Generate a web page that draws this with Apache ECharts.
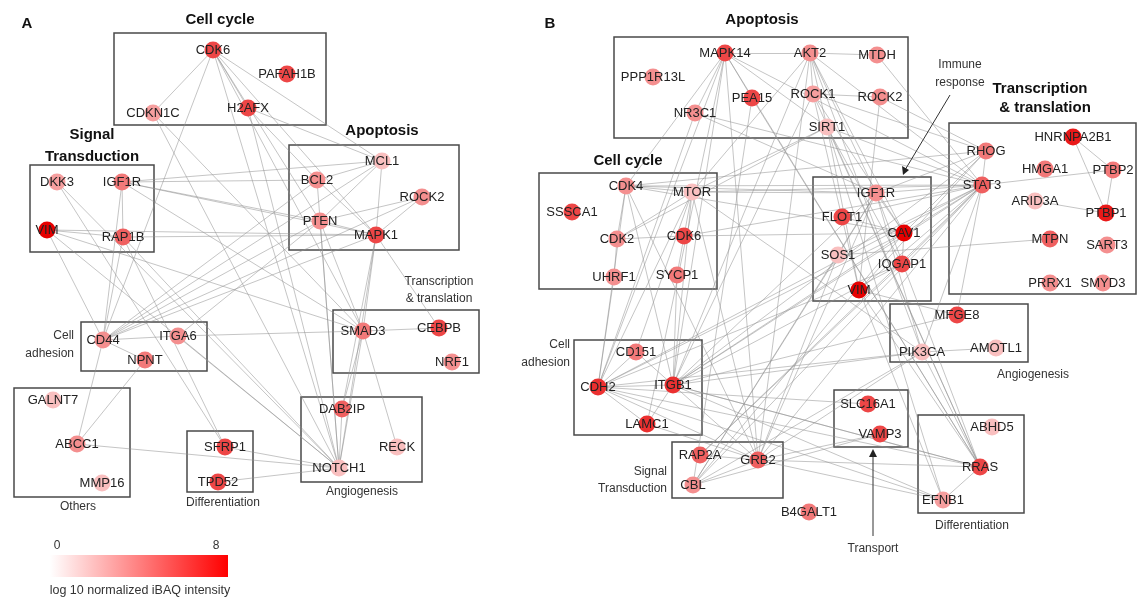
<!DOCTYPE html>
<html>
<head>
<meta charset="utf-8">
<script src="https://cdn.jsdelivr.net/npm/echarts@6/dist/echarts.min.js"></script>
<style>
  html, body { margin: 0; padding: 0; background: #fff; }
  #chart { width: 1138px; height: 599px; }
</style>
</head>
<body>
<div id="chart"></div>
<script>
// node name + log10 normalized iBAQ intensity (0..8)
const namesA = ["CDK6", "PAFAH1B", "CDKN1C", "H2AFX", "DKK3", "IGF1R", "VIM", "RAP1B",
  "MCL1", "BCL2", "ROCK2", "PTEN", "MAPK1", "SMAD3", "CEBPB", "NRF1", "DAB2IP", "RECK",
  "NOTCH1", "CD44", "ITGA6", "NPNT", "GALNT7", "ABCC1", "MMP16", "SFRP1", "TPD52"];
const intensityA = [5.8, 5.8, 3, 5.8, 3, 4.2, 8, 5, 2, 3.5, 3.5, 3.5, 5.8, 4.2, 5.8, 3.5, 5, 2,
  2, 3.5, 3.5, 4.2, 2, 3.5, 2, 5.8, 5.8];
// layout of panel A nodes (axis units)
const layoutA = [[213, 50], [287, 74], [153, 113], [248, 108], [57, 182], [122, 182], [47, 230], [123, 237],
  [382, 161], [317, 180], [422, 197], [320, 221], [376, 235], [363, 331], [439, 328], [452, 362], [342, 409], [397, 447],
  [339, 468], [103, 340], [178, 336], [145, 360], [53, 400], [77, 444], [102, 483], [225, 447], [218, 482]];

const namesB = ["MAPK14", "AKT2", "MTDH", "PPP1R13L", "PEA15", "ROCK1", "ROCK2", "NR3C1", "SIRT1",
  "CDK4", "MTOR", "SSSCA1", "CDK2", "CDK6", "UHRF1", "SYCP1",
  "IGF1R", "FLOT1", "CAV1", "SOS1", "IQGAP1", "VIM",
  "RHOG", "HNRNPA2B1", "HMGA1", "PTBP2", "STAT3", "ARID3A", "PTBP1", "MTPN", "SART3", "PRRX1", "SMYD3",
  "MFGE8", "PIK3CA", "AMOTL1", "SLC16A1", "VAMP3", "ABHD5", "RRAS", "EFNB1", "B4GALT1",
  "CD151", "CDH2", "ITGB1", "LAMC1", "RAP2A", "GRB2", "CBL"];
const intensityB = [5.8, 3.5, 3.5, 3.5, 5.8, 3, 3.5, 3.5, 2,
  3.5, 2, 5.8, 3.5, 5.8, 3.5, 4.2,
  3.5, 5.8, 8, 2, 5.8, 8,
  4.2, 7.2, 4.2, 4.2, 5, 2, 7.2, 5, 3.5, 3.5, 3.5,
  5.8, 2, 2, 5.8, 5.8, 2, 5.8, 3, 4.2,
  4.2, 6.5, 6.5, 6.5, 5, 5, 3.5];
const layoutB = [[725, 53], [810, 53], [877, 55], [653, 77], [752, 98], [813, 94], [880, 97], [695, 113], [827, 127],
  [626, 186], [692, 192], [572, 212], [617, 239], [684, 236], [614, 277], [677, 275],
  [876, 193], [842, 217], [904, 233], [838, 255], [902, 264], [859, 290],
  [986, 151], [1073, 137], [1045, 169], [1113, 170], [982, 185], [1035, 201], [1106, 213], [1050, 239], [1107, 245], [1050, 283], [1103, 283],
  [957, 315], [922, 352], [996, 348], [868, 404], [880, 434], [992, 427], [980, 467], [943, 500], [809, 512],
  [636, 352], [598, 387], [673, 385], [647, 424], [700, 455], [758, 460], [693, 485]];

const edgesA = [
  ["CDK6", "CDKN1C"], ["CDK6", "H2AFX"], ["CDK6", "MCL1"], ["CDK6", "CD44"], ["CDK6", "PTEN"], ["CDK6", "MAPK1"],
  ["CDK6", "SMAD3"], ["CDK6", "NOTCH1"], ["H2AFX", "BCL2"], ["H2AFX", "MCL1"], ["H2AFX", "NOTCH1"],
  ["CDKN1C", "SMAD3"], ["CDKN1C", "NOTCH1"], ["IGF1R", "RAP1B"], ["IGF1R", "BCL2"], ["IGF1R", "PTEN"],
  ["IGF1R", "MCL1"], ["IGF1R", "MAPK1"], ["IGF1R", "SMAD3"], ["IGF1R", "CD44"], ["DKK3", "NOTCH1"], ["DKK3", "SFRP1"],
  ["VIM", "RAP1B"], ["VIM", "CD44"], ["VIM", "NOTCH1"], ["VIM", "SMAD3"], ["VIM", "MAPK1"],
  ["RAP1B", "MAPK1"], ["RAP1B", "CD44"], ["RAP1B", "NOTCH1"], ["MCL1", "BCL2"], ["MCL1", "PTEN"], ["MCL1", "MAPK1"],
  ["BCL2", "MAPK1"], ["PTEN", "ROCK2"], ["PTEN", "MAPK1"], ["ROCK2", "MAPK1"], ["MAPK1", "SMAD3"], ["MAPK1", "CEBPB"],
  ["MAPK1", "NOTCH1"], ["MAPK1", "DAB2IP"], ["SMAD3", "CEBPB"], ["SMAD3", "NOTCH1"], ["SMAD3", "DAB2IP"],
  ["SMAD3", "RECK"], ["SMAD3", "ITGA6"], ["PTEN", "SMAD3"], ["CD44", "ITGA6"], ["CD44", "MCL1"], ["CD44", "PTEN"],
  ["CD44", "BCL2"], ["CD44", "MAPK1"], ["CD44", "ROCK2"], ["CD44", "ABCC1"], ["CD44", "NPNT"], ["ITGA6", "NOTCH1"],
  ["ITGA6", "PTEN"], ["NPNT", "ABCC1"], ["ABCC1", "NOTCH1"], ["SFRP1", "NOTCH1"], ["SFRP1", "RAP1B"],
  ["PTEN", "NOTCH1"], ["BCL2", "NOTCH1"], ["DAB2IP", "NOTCH1"], ["TPD52", "NOTCH1"]
];

const edgesB = [
  ["MAPK14", "AKT2"], ["AKT2", "MTDH"], ["ROCK1", "ROCK2"], ["AKT2", "ROCK1"], ["AKT2", "SIRT1"],
  ["MAPK14", "NR3C1"], ["MAPK14", "PEA15"], ["MAPK14", "CDH2"], ["MAPK14", "ITGB1"], ["MAPK14", "STAT3"],
  ["MAPK14", "GRB2"], ["MAPK14", "SIRT1"], ["MAPK14", "CDK4"], ["MAPK14", "RRAS"], ["MAPK14", "LAMC1"],
  ["AKT2", "MTOR"], ["AKT2", "IGF1R"], ["AKT2", "CAV1"], ["AKT2", "STAT3"], ["AKT2", "GRB2"], ["AKT2", "PIK3CA"],
  ["AKT2", "ITGB1"], ["ROCK1", "VIM"], ["ROCK1", "RHOG"], ["ROCK1", "ITGB1"], ["ROCK1", "RRAS"], ["ROCK1", "CAV1"],
  ["ROCK2", "RHOG"], ["ROCK2", "VIM"], ["SIRT1", "STAT3"], ["SIRT1", "MTOR"], ["SIRT1", "VIM"], ["SIRT1", "IQGAP1"],
  ["SIRT1", "CDK2"], ["SIRT1", "RRAS"], ["SIRT1", "EFNB1"], ["MTDH", "STAT3"], ["PEA15", "RRAS"], ["PEA15", "CBL"],
  ["NR3C1", "STAT3"], ["NR3C1", "CDH2"], ["CDK4", "CDK2"], ["CDK2", "UHRF1"], ["CDK2", "CDK6"], ["CDK4", "MTOR"],
  ["CDK4", "IGF1R"], ["CDK4", "STAT3"], ["CDK4", "ITGB1"], ["CDK4", "GRB2"], ["CDK4", "CAV1"], ["MTOR", "IGF1R"],
  ["MTOR", "STAT3"], ["MTOR", "ITGB1"], ["MTOR", "GRB2"], ["MTOR", "PIK3CA"], ["MTOR", "CDK2"], ["MTOR", "SYCP1"],
  ["CDK6", "CAV1"], ["CDK6", "STAT3"], ["IGF1R", "STAT3"], ["IGF1R", "CAV1"], ["IGF1R", "GRB2"], ["IGF1R", "PIK3CA"],
  ["IGF1R", "SOS1"], ["IGF1R", "CBL"], ["FLOT1", "CAV1"], ["FLOT1", "STAT3"], ["CAV1", "STAT3"], ["CAV1", "IQGAP1"],
  ["CAV1", "ITGB1"], ["CAV1", "CDH2"], ["SOS1", "GRB2"], ["IQGAP1", "CDH2"], ["IQGAP1", "ITGB1"], ["IQGAP1", "STAT3"],
  ["VIM", "STAT3"], ["VIM", "RRAS"], ["HNRNPA2B1", "PTBP2"], ["HNRNPA2B1", "PTBP1"], ["PTBP2", "PTBP1"],
  ["ARID3A", "PTBP1"], ["RHOG", "STAT3"], ["STAT3", "PTBP2"], ["MTPN", "SOS1"], ["STAT3", "CDH2"], ["STAT3", "ITGB1"],
  ["STAT3", "GRB2"], ["STAT3", "CBL"], ["STAT3", "PIK3CA"], ["STAT3", "SOS1"], ["STAT3", "RAP2A"], ["STAT3", "MFGE8"],
  ["RHOG", "IGF1R"], ["RHOG", "CAV1"], ["RHOG", "ITGB1"], ["RHOG", "VIM"], ["RHOG", "CDK4"], ["PIK3CA", "AMOTL1"],
  ["PIK3CA", "GRB2"], ["PIK3CA", "CDH2"], ["PIK3CA", "RRAS"], ["PIK3CA", "CBL"], ["MFGE8", "ITGB1"], ["MFGE8", "VIM"],
  ["VAMP3", "GRB2"], ["VAMP3", "CBL"], ["SLC16A1", "CDH2"], ["RRAS", "EFNB1"], ["RRAS", "GRB2"], ["RRAS", "IGF1R"],
  ["RRAS", "ITGB1"], ["EFNB1", "GRB2"], ["EFNB1", "CDH2"], ["EFNB1", "ITGB1"], ["EFNB1", "VIM"],
  ["CD151", "ITGB1"], ["CDH2", "ITGB1"], ["CDH2", "LAMC1"], ["ITGB1", "LAMC1"], ["CDH2", "CD151"],
  ["CDH2", "GRB2"], ["CDH2", "RRAS"], ["CDH2", "CDK4"], ["CDH2", "MTOR"], ["ITGB1", "GRB2"], ["ITGB1", "RRAS"],
  ["ITGB1", "PIK3CA"], ["ITGB1", "IGF1R"], ["LAMC1", "GRB2"], ["GRB2", "CBL"], ["RAP2A", "IQGAP1"], ["RAP2A", "GRB2"],
  ["CBL", "CAV1"], ["CBL", "SOS1"], ["CD151", "MTOR"], ["UHRF1", "CDH2"], ["SYCP1", "ITGB1"], ["NR3C1", "IGF1R"]
];

// group boxes [x1, y1, x2, y2]
const boxesA = [[114, 33, 326, 125], [30, 165, 154, 252], [289, 145, 459, 250], [333, 310, 479, 373],
  [301, 397, 422, 482], [81, 322, 207, 371], [14, 388, 130, 497], [187, 431, 253, 492]];
const boxesB = [[614, 37, 908, 138], [539, 173, 717, 289], [813, 177, 931, 301], [949, 123, 1136, 294],
  [890, 304, 1028, 362], [834, 390, 908, 447], [918, 415, 1024, 513], [574, 340, 702, 435], [672, 442, 783, 498]];

function colorFor(v) {
  const t = Math.max(0, Math.min(1, v / 8));
  const r = Math.round(255 - 25 * t);
  const g = Math.round(255 * (1 - t));
  return "rgb(" + r + "," + g + "," + g + ")";
}

function buildNodes(names, vals, layout) {
  return names.map((n, i) => ({
    name: n,
    value: layout[i],
    itemStyle: { color: colorFor(vals[i]) }
  }));
}

function buildLinks(edges) {
  return edges.map(e => ({ source: e[0], target: e[1] }));
}

function graphSeries(names, vals, layout, edges) {
  return {
    type: "graph",
    coordinateSystem: "cartesian2d",
    layout: "none",
    z: 3,
    symbolSize: 17,
    data: buildNodes(names, vals, layout),
    links: buildLinks(edges),
    label: {
      show: true,
      position: "inside",
      color: "#222",
      fontSize: 13,
      fontFamily: "Liberation Sans, Arial, sans-serif"
    },
    lineStyle: { color: "#8f8f8f", width: 0.7, opacity: 0.75, curveness: 0 },
    emphasis: { disabled: true }
  };
}

function boxSeries(boxes) {
  return {
    type: "custom",
    z: 2,
    silent: true,
    clip: false,
    data: boxes,
    renderItem: function (params, api) {
      const p1 = api.coord([api.value(0), api.value(1)]);
      const p2 = api.coord([api.value(2), api.value(3)]);
      return {
        type: "rect",
        shape: { x: p1[0], y: p1[1], width: p2[0] - p1[0], height: p2[1] - p1[1] },
        style: { fill: "none", stroke: "#4a4a4a", lineWidth: 1.5 }
      };
    }
  };
}

const bold = "bold 15px Liberation Sans, Arial, sans-serif";
const small = "12px Liberation Sans, Arial, sans-serif";

function txt(x, y, s, font, align) {
  return {
    type: "text", x: x, y: y, z: 10,
    style: { text: s, font: font, fill: bold === font ? "#111" : "#333", textAlign: align || "center", textVerticalAlign: "middle" }
  };
}

const annotations = [
  txt(27, 24, "A", bold), txt(550, 24, "B", bold),
  // panel A
  txt(220, 20, "Cell cycle", bold),
  txt(92, 135, "Signal", bold), txt(92, 157, "Transduction", bold),
  txt(382, 131, "Apoptosis", bold),
  txt(439, 282, "Transcription", small), txt(439, 299, "& translation", small),
  txt(74, 336, "Cell", small, "right"), txt(74, 354, "adhesion", small, "right"),
  txt(78, 507, "Others", small), txt(223, 503, "Differentiation", small), txt(362, 492, "Angiogenesis", small),
  // panel B
  txt(762, 20, "Apoptosis", bold), txt(628, 161, "Cell cycle", bold),
  txt(1040, 89, "Transcription", bold), txt(1045, 108, "& translation", bold),
  txt(960, 65, "Immune", small), txt(960, 83, "response", small),
  txt(570, 345, "Cell", small, "right"), txt(570, 363, "adhesion", small, "right"),
  txt(667, 472, "Signal", small, "right"), txt(667, 489, "Transduction", small, "right"),
  txt(1033, 375, "Angiogenesis", small), txt(972, 526, "Differentiation", small), txt(873, 549, "Transport", small),
  // arrows
  { type: "line", z: 10, shape: { x1: 950, y1: 95, x2: 905, y2: 170 }, style: { stroke: "#333", lineWidth: 1 } },
  { type: "polygon", z: 10, shape: { points: [[903, 175], [902, 166], [909, 170]] }, style: { fill: "#222" } },
  { type: "line", z: 10, shape: { x1: 873, y1: 536, x2: 873, y2: 455 }, style: { stroke: "#333", lineWidth: 1 } },
  { type: "polygon", z: 10, shape: { points: [[873, 449], [869, 457], [877, 457]] }, style: { fill: "#222" } },
  // colour scale
  {
    type: "rect", z: 10, shape: { x: 50, y: 555, width: 178, height: 22 },
    style: {
      fill: new echarts.graphic.LinearGradient(0, 0, 1, 0, [
        { offset: 0, color: "#ffffff" }, { offset: 1, color: "#ff0000" }
      ])
    }
  },
  txt(57, 546, "0", small), txt(216, 546, "8", small),
  txt(140, 591, "log 10 normalized iBAQ intensity", "12.5px Liberation Sans, Arial, sans-serif")
];

const chart = echarts.init(document.getElementById("chart"));
chart.setOption({
  animation: false,
  backgroundColor: "#fff",
  grid: { left: 0, right: 0, top: 0, bottom: 0 },
  xAxis: { type: "value", min: 0, max: 1138, show: false },
  yAxis: { type: "value", min: 0, max: 599, inverse: true, show: false },
  series: [
    boxSeries(boxesA),
    boxSeries(boxesB),
    graphSeries(namesA, intensityA, layoutA, edgesA),
    graphSeries(namesB, intensityB, layoutB, edgesB)
  ],
  graphic: annotations
});
</script>
</body>
</html>
